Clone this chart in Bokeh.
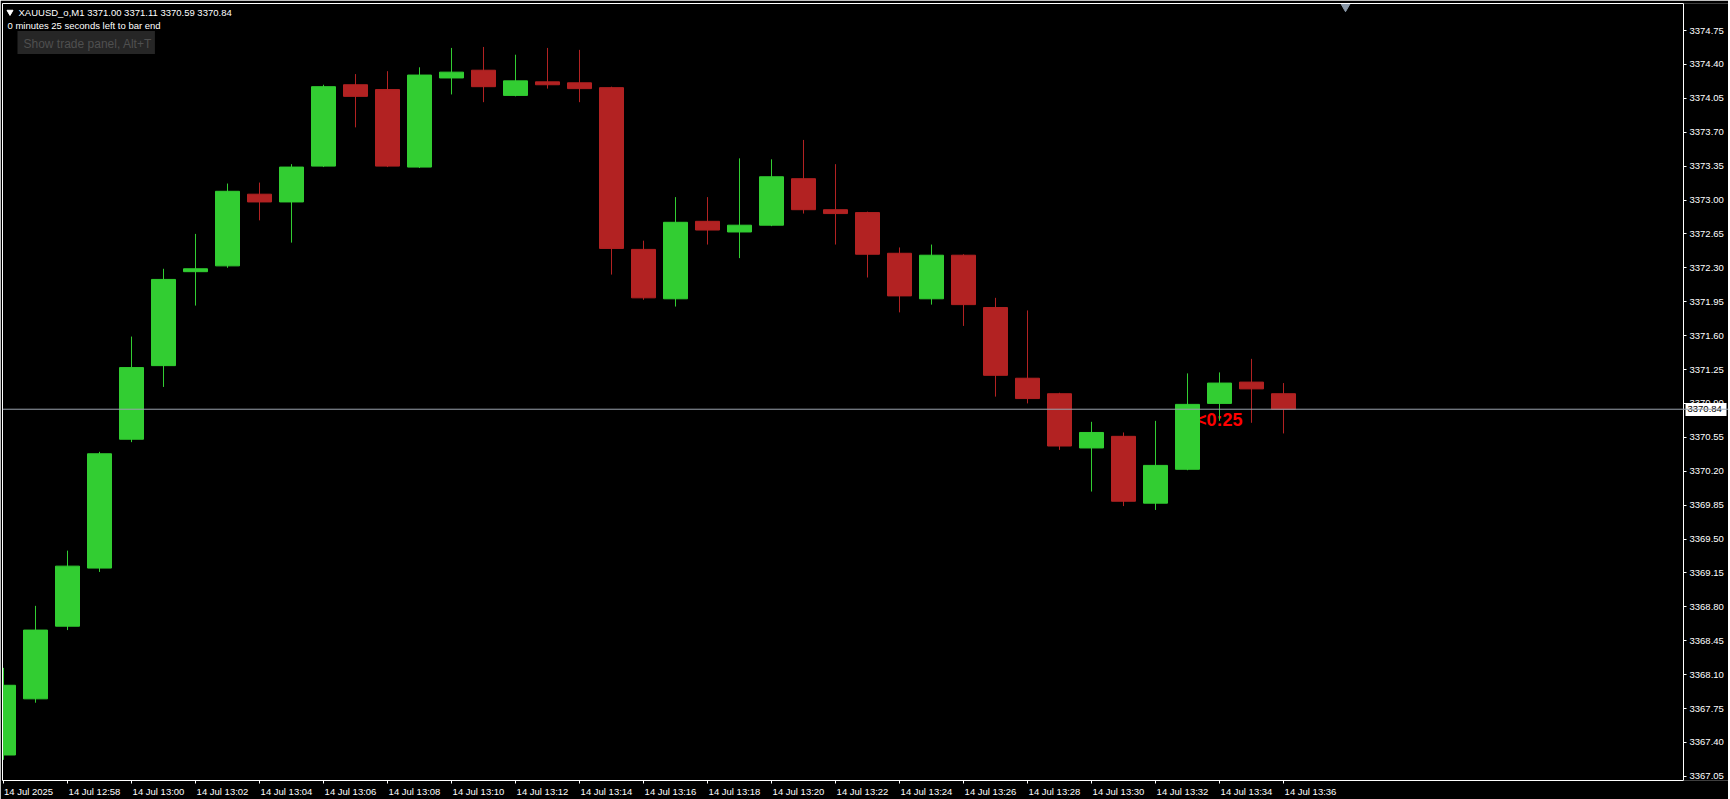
from bokeh.plotting import figure
from bokeh.models import Range1d, FixedTicker, PrintfTickFormatter, Label, Span, LinearAxis, ColumnDataSource
from bokeh.core.properties import value
from bokeh.embed import file_html
from bokeh.resources import INLINE

# ---------------- data (XAUUSD_o, M1, 14 Jul 2025) ----------------
times = ["12:56", "12:57", "12:58", "12:59", "13:00", "13:01", "13:02", "13:03", "13:04", "13:05",
         "13:06", "13:07", "13:08", "13:09", "13:10", "13:11", "13:12", "13:13", "13:14", "13:15",
         "13:16", "13:17", "13:18", "13:19", "13:20", "13:21", "13:22", "13:23", "13:24", "13:25",
         "13:26", "13:27", "13:28", "13:29", "13:30", "13:31", "13:32", "13:33", "13:34", "13:35",
         "13:36"]
opens = [3367.27, 3367.85, 3368.60, 3369.20, 3370.53, 3371.29, 3372.26, 3372.32, 3373.06, 3372.98,
         3373.35, 3374.19, 3374.14, 3373.34, 3374.26, 3374.34, 3374.08, 3374.22, 3374.21, 3374.16,
         3372.49, 3371.98, 3372.78, 3372.67, 3372.74, 3373.22, 3372.90, 3372.87, 3372.45, 3371.98,
         3372.43, 3371.89, 3371.16, 3371.00, 3370.44, 3370.56, 3369.87, 3370.22, 3370.90, 3371.12,
         3371.00]
highs = [3368.17, 3368.81, 3369.38, 3370.40, 3371.59, 3372.29, 3372.65, 3373.17, 3373.18, 3373.37,
         3374.19, 3374.30, 3374.33, 3374.37, 3374.57, 3374.58, 3374.50, 3374.57, 3374.55, 3374.17,
         3372.58, 3373.03, 3373.03, 3373.43, 3373.42, 3373.62, 3373.37, 3372.88, 3372.51, 3372.54,
         3372.44, 3371.99, 3371.86, 3371.01, 3370.71, 3370.60, 3370.72, 3371.21, 3371.22, 3371.36,
         3371.11]
lows = [3367.22, 3367.81, 3368.56, 3369.16, 3370.50, 3371.07, 3371.91, 3372.30, 3372.79, 3372.56,
        3373.34, 3373.75, 3373.34, 3373.33, 3374.09, 3374.01, 3374.07, 3374.15, 3374.01, 3372.23,
        3371.97, 3371.90, 3372.54, 3372.40, 3372.73, 3372.86, 3372.54, 3372.20, 3371.84, 3371.92,
        3371.70, 3370.97, 3370.90, 3370.42, 3369.99, 3369.84, 3369.80, 3370.21, 3370.72, 3370.70,
        3370.59]
closes = [3367.99, 3368.56, 3369.22, 3370.38, 3371.27, 3372.18, 3372.29, 3373.09, 3372.98, 3373.34,
          3374.17, 3374.07, 3373.35, 3374.29, 3374.32, 3374.17, 3374.23, 3374.19, 3374.15, 3372.50,
          3371.99, 3372.77, 3372.69, 3372.74, 3373.24, 3372.90, 3372.86, 3372.44, 3372.01, 3372.43,
          3371.92, 3371.19, 3370.95, 3370.46, 3370.60, 3369.89, 3370.26, 3370.89, 3371.11, 3371.05,
          3370.84]
price_ticks = [3367.05, 3367.40, 3367.75, 3368.10, 3368.45, 3368.80, 3369.15, 3369.50, 3369.85,
               3370.20, 3370.55, 3370.90, 3371.25, 3371.60, 3371.95, 3372.30, 3372.65, 3373.00,
               3373.35, 3373.70, 3374.05, 3374.40, 3374.75]
x_tick_labels = ["14 Jul 2025", "14 Jul 12:58", "14 Jul 13:00", "14 Jul 13:02", "14 Jul 13:04",
                 "14 Jul 13:06", "14 Jul 13:08", "14 Jul 13:10", "14 Jul 13:12", "14 Jul 13:14",
                 "14 Jul 13:16", "14 Jul 13:18", "14 Jul 13:20", "14 Jul 13:22", "14 Jul 13:24",
                 "14 Jul 13:26", "14 Jul 13:28", "14 Jul 13:30", "14 Jul 13:32", "14 Jul 13:34",
                 "14 Jul 13:36"]
symbol = "XAUUSD_o,M1"
bid = 3370.84
countdown = "<0:25"
info_line = "0 minutes 25 seconds left to bar end"
panel_text = "Show trade panel, Alt+T"

# ---------------- layout / scales ----------------
BULL = "#32CD32"
BEAR = "#B22222"
FONT = "Liberation Sans"
PX_MIN = 32.0        # pixels per bar
PX_PRICE = 96.86     # pixels per price unit
FRAME_L, FRAME_T = 2, 3
FRAME_W, FRAME_H = 1726, 777     # plot area incl. the price-scale strip
CHART_R = 1683                    # right edge of the chart window (price scale starts here)
X0 = (FRAME_L - 3) / PX_MIN
X1 = X0 + FRAME_W / PX_MIN
X_EDGE = X0 + (CHART_R - FRAME_L) / PX_MIN
Y1 = 3374.75 + (30 - FRAME_T) / PX_PRICE
Y0 = Y1 - FRAME_H / PX_PRICE


def sx2x(sx):
    return X0 + (sx - FRAME_L) / PX_MIN


def sy2y(sy):
    return Y1 - (sy - FRAME_T) / PX_PRICE


idx = list(range(len(times)))
colors = [BULL if c >= o else BEAR for o, c in zip(opens, closes)]
src = ColumnDataSource(dict(
    x=idx, high=highs, low=lows,
    top=[max(o, c) for o, c in zip(opens, closes)],
    bottom=[min(o, c) for o, c in zip(opens, closes)],
    color=colors, time=times))

p = figure(frame_width=FRAME_W, frame_height=FRAME_H,
           x_range=Range1d(X0, X1), y_range=Range1d(Y0, Y1),
           output_backend="svg", toolbar_location=None,
           x_axis_location=None, y_axis_location=None,
           background_fill_color="black", border_fill_color="black",
           outline_line_color=None,
           min_border_left=FRAME_L, min_border_top=FRAME_T, min_border_right=0, min_border_bottom=17)
p.xgrid.visible = False
p.ygrid.visible = False


def bare_axis(**kw):
    ax = LinearAxis(ticker=FixedTicker(ticks=[]), **kw)
    ax.axis_line_color = "white"
    ax.major_tick_line_color = None
    ax.minor_tick_line_color = None
    ax.major_tick_out = 0
    ax.major_tick_in = 0
    ax.minor_tick_out = 0
    ax.minor_tick_in = 0
    ax.major_label_standoff = 0
    return ax


# chart window frame: left and top edges
p.add_layout(bare_axis(), "left")
p.add_layout(bare_axis(bounds=(X0, X_EDGE)), "above")

# price scale at the right edge of the chart window
yax = LinearAxis(ticker=FixedTicker(ticks=price_ticks), formatter=PrintfTickFormatter(format="%.2f"),
                 fixed_location=X_EDGE)
yax.axis_line_color = "white"
yax.major_tick_line_color = "white"
yax.major_tick_out = 3
yax.major_tick_in = 0
yax.minor_tick_line_color = None
yax.major_label_text_color = "white"
yax.major_label_text_font = FONT
yax.major_label_text_font_size = "9.5px"
yax.major_label_standoff = 3
p.add_layout(yax, "right")

# bid price box on the price scale (white box, black text)
bax = LinearAxis(ticker=FixedTicker(ticks=[bid]), formatter=PrintfTickFormatter(format="%.2f"),
                 fixed_location=X_EDGE)
bax.axis_line_color = None
bax.minor_tick_line_color = None
bax.major_tick_line_color = "white"
bax.major_tick_line_width = 13
bax.major_tick_in = -2
bax.major_tick_out = 43
bax.major_label_text_color = "black"
bax.major_label_text_font = FONT
bax.major_label_text_font_size = "9.5px"
bax.major_label_standoff = -39
p.add_layout(bax, "right")

# bottom time axis: tick marks at bars (minor), labels left-aligned to them (major, shifted)
tick_idx = [2 * k for k in range(len(x_tick_labels))]
label_pos = [t + (25.0 if t == 0 else 27.0) / PX_MIN for t in tick_idx]
xax = LinearAxis(ticker=FixedTicker(ticks=label_pos, minor_ticks=tick_idx),
                 major_label_overrides={lp: lab for lp, lab in zip(label_pos, x_tick_labels)},
                 bounds=(X0, X_EDGE))
xax.axis_line_color = "white"
xax.major_tick_line_color = None
xax.major_tick_out = 0
xax.major_tick_in = 0
xax.minor_tick_line_color = "white"
xax.minor_tick_out = 3
xax.minor_tick_in = 0
xax.major_label_text_color = "white"
xax.major_label_text_font = FONT
xax.major_label_text_font_size = "9.5px"
xax.major_label_standoff = 2
p.add_layout(xax, "below")

# countdown text (drawn under the candles)
p.text(x=[sx2x(1195.5)], y=[bid], text=[countdown], text_color="#FF0000",
       text_font=value(FONT), text_font_style="bold", text_font_size="18px",
       text_baseline="top", text_align="left", y_offset=1)

# candles
p.segment(x0="x", y0="low", x1="x", y1="high", color="color", line_width=1, source=src)
p.vbar(x="x", width=0.75, top="top", bottom="bottom", fill_color="color",
       line_color="color", line_width=1, source=src)

# bid line
p.add_layout(Span(location=bid, dimension="width", line_color="#9aa3ad", line_width=1))

# chart shift marker
p.scatter(x=[sx2x(1345)], y=[sy2y(6)], marker="inverted_triangle", size=9,
          fill_color="#8a98a8", line_color="#8a98a8")

# header
p.scatter(x=[sx2x(9.5)], y=[sy2y(11.5)], marker="inverted_triangle", size=6,
          fill_color="white", line_color="white")
p.add_layout(Label(x=sx2x(18), y=sy2y(11.5),
                   text=f"{symbol}  {opens[-1]:.2f} {highs[-1]:.2f} {lows[-1]:.2f} {closes[-1]:.2f}",
                   text_color="white", text_font=FONT, text_font_size="9.5px",
                   text_baseline="middle", text_align="left"))
p.add_layout(Label(x=sx2x(7), y=sy2y(25), text=info_line,
                   text_color="white", text_font=FONT, text_font_size="9.5px",
                   text_baseline="middle", text_align="left"))
p.add_layout(Label(x=sx2x(17), y=sy2y(42), text=panel_text,
                   text_color="#4f4f4f", background_fill_color="#262626",
                   text_font=FONT, text_font_size="12px",
                   text_baseline="middle", text_align="left", padding=(6, 3, 6, 3)))

open("out.html", "w").write(file_html(p, INLINE))
